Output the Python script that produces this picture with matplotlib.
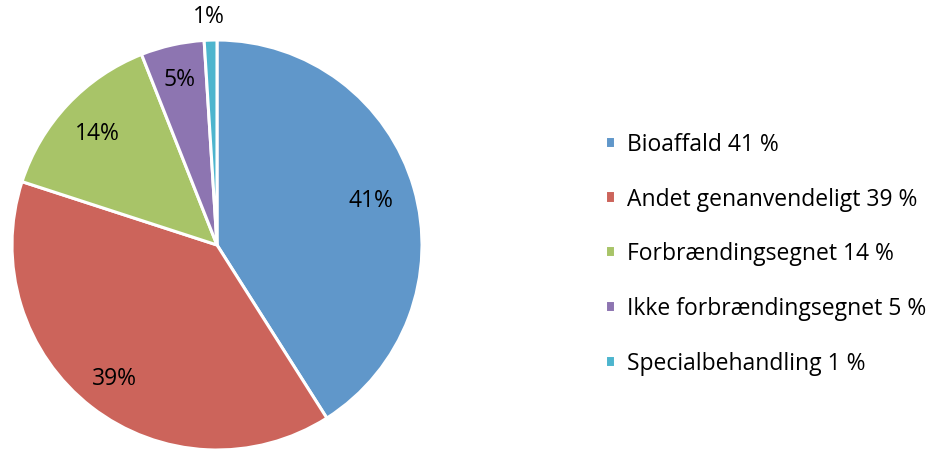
import matplotlib
matplotlib.use("Agg")
import matplotlib.pyplot as plt
import numpy as np

categories = ["Bioaffald 41 %", "Andet genanvendeligt 39 %", "Forbrændingsegnet 14 %",
              "Ikke forbrændingsegnet 5 %", "Specialbehandling 1 %"]
values = [41, 39, 14, 5, 1]
pct_labels = ["41%", "39%", "14%", "5%", "1%"]
colors = ["#6097CA", "#CC645B", "#A8C468", "#8D75B1", "#4DB5CE"]

plt.rcParams['font.family'] = ['Open Sans', 'DejaVu Sans']

fig = plt.figure(figsize=(9.31, 4.52), dpi=100)
W, H = 931, 452
cx, cy, r = 217, 246, 205
ax = fig.add_axes([(cx - r) / W, (H - cy - r) / H, 2 * r / W, 2 * r / H])

wedges, _ = ax.pie(values, colors=colors, startangle=90, counterclock=False,
                   radius=1.0, wedgeprops=dict(edgecolor="white", linewidth=2.2))
ax.set_xlim(-1, 1)
ax.set_ylim(-1, 1)
ax.set_aspect("equal")
ax.axis("off")
for w in wedges:
    w.set_clip_on(False)

dists = [0.78, 0.82, 0.80, 0.83, 1.12]
cum = np.cumsum([0] + values)
for i, (lab, d) in enumerate(zip(pct_labels, dists)):
    mid = 90 - 360 * (cum[i] + values[i] / 2) / sum(values)
    if i == 4:
        mid = 92
    x, y = d * np.cos(np.radians(mid)), d * np.sin(np.radians(mid))
    ax.text(x, y, lab, ha="center", va="center", fontsize=16.5, color="black", clip_on=False)

leg = fig.legend(wedges, categories, loc="upper left", bbox_to_anchor=(605 / W, 1 - 133 / H),
                 frameon=False, fontsize=16.5, handlelength=0.44, handleheight=0.44,
                 handletextpad=0.5, labelspacing=1.34, borderaxespad=0, borderpad=0)

fig.savefig("out.png", dpi=100)
